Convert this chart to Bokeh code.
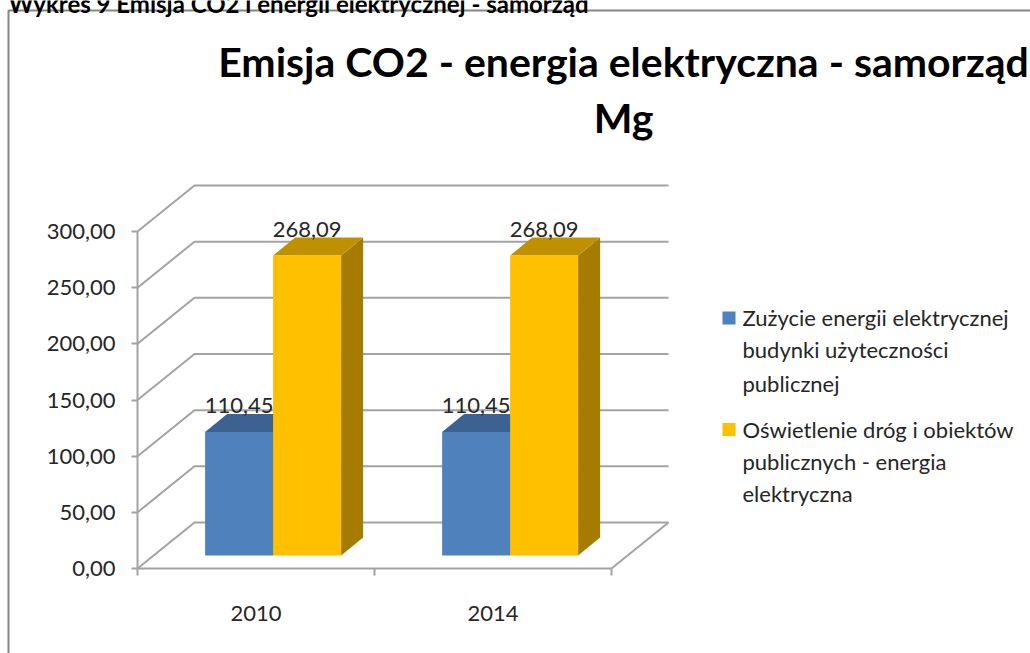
from bokeh.plotting import figure
from bokeh.models import Range1d, FixedTicker
from bokeh.core.properties import value
from bokeh.embed import file_html
from bokeh.resources import INLINE

# ---- data
categories = ["2010", "2014"]
series_a = [110.45, 110.45]
series_b = [268.09, 268.09]
labels_a = ["110,45", "110,45"]
labels_b = ["268,09", "268,09"]
y_ticks = [0, 50, 100, 150, 200, 250, 300]
y_tick_labels = ["0,00", "50,00", "100,00", "150,00", "200,00", "250,00", "300,00"]
legend_a = ["Zużycie energii elektrycznej", "budynki użyteczności", "publicznej"]
legend_b = ["Oświetlenie dróg i obiektów", "publicznych - energia", "elektryczna"]
title_lines = ["Emisja CO2 - energia elektryczna  - samorząd", "Mg"]
caption = "Wykres 9 Emisja CO2 i energii elektrycznej - samorząd"

# ---- layout constants
W, H = 1030, 653
X0, XU = 137, 237.0      # canvas px of x=0, px per category
Y0, YU = 568, 337 / 300  # canvas px of y=0, px per unit
FONT = "Lato"
GRID = "#a3a3a3"


def dx(px):
    return px / XU


def dy(px):
    return px / YU


def cx(px):
    return (px - X0) / XU


def cy(px):
    return (Y0 - px) / YU


p = figure(width=W, height=H, output_backend="svg", toolbar_location=None,
           x_range=Range1d(cx(0), cx(W)), y_range=Range1d(cy(H), cy(0)),
           min_border=0, outline_line_color=None,
           background_fill_color="white", border_fill_color="white")
p.grid.visible = False

# ---- axes, placed inside the frame
ya = p.yaxis[0]
ya.fixed_location = 0
ya.ticker = FixedTicker(ticks=y_ticks)
ya.major_label_overrides = dict(zip(y_ticks, y_tick_labels))
ya.major_label_text_font = FONT
ya.major_label_text_font_size = "22px"
ya.major_label_text_color = "#262626"
ya.major_label_standoff = 16
ya.major_tick_out = 6
ya.major_tick_in = 0
ya.minor_tick_line_color = None
ya.axis_line_color = GRID
ya.axis_line_width = 2
ya.major_tick_line_color = GRID
ya.major_tick_line_width = 2
ya.bounds = (0, 300)

xa = p.xaxis[0]
xa.fixed_location = 0
xa.ticker = FixedTicker(ticks=[0.5, 1.5])
xa.major_label_overrides = {0.5: categories[0], 1.5: categories[1]}
xa.major_label_text_font = FONT
xa.major_label_text_font_size = "22px"
xa.major_label_text_color = "#262626"
xa.major_label_standoff = 31
xa.major_tick_line_color = None
xa.minor_tick_line_color = None
xa.axis_line_color = GRID
xa.axis_line_width = 2
xa.bounds = (0, 2)

# ---- chart frame (page border)
p.line([cx(8), cx(8), cx(W)], [cy(H), cy(10), cy(10)], line_color="#868686", line_width=2)

# ---- 3-D walls
BX, BY = dx(57), dy(46)
for v in y_ticks:
    p.line([0, BX, 2 + BX], [v, v + BY, v + BY], line_color=GRID, line_width=2)
p.line([2, 2 + BX], [0, BY], line_color=GRID, line_width=2)
p.segment(x0=[0, 1, 2], y0=[0, 0, 0], x1=[0, 1, 2], y1=[dy(-7)] * 3, line_color=GRID, line_width=2)

# ---- 3-D bars
OFF_Y = dy(13)
BAR = 68 / XU
START = 67.6 / XU
DX, DY = dx(22), dy(18)


def bar(i, vals, slot, front, top, side):
    x0 = i + START + slot * BAR
    x1 = x0 + BAR
    base = OFF_Y
    t = vals[i] * 1.119 / YU + OFF_Y
    p.patch([x1, x1 + DX, x1 + DX, x1], [base, base + DY, t + DY, t], fill_color=side, line_color=None)
    p.patch([x0, x0 + DX, x1 + DX, x1], [t, t + DY, t + DY, t], fill_color=top, line_color=None)
    p.quad(left=x0, right=x1, bottom=base, top=t, fill_color=front, line_color=None)


for i in range(len(categories)):
    bar(i, series_a, 0, "#4f81bd", "#3c6291", "#35577f")
for i in range(len(categories)):
    bar(i, series_b, 1, "#ffc000", "#bf9000", "#a67c00")

# ---- data labels
for i in range(len(categories)):
    xa_c = i + START + 0.5 * BAR
    xb_c = i + START + 1.5 * BAR
    p.text([xa_c], [series_a[i] * 1.119 / YU + OFF_Y + dy(26)], text=[labels_a[i]], text_font=value(FONT),
           text_font_size="22px", text_align="center", text_baseline="middle", text_color="#262626")
    p.text([xb_c], [series_b[i] * 1.119 / YU + OFF_Y + dy(26)], text=[labels_b[i]], text_font=value(FONT),
           text_font_size="22px", text_align="center", text_baseline="middle", text_color="#262626")

# ---- title and clipped caption
p.text([cx(628)], [cy(61)], text=[title_lines[0]], text_font=value(FONT), text_font_size="41px",
       text_font_style="bold", text_align="center", text_baseline="middle", text_color="#000000")
p.text([cx(623)], [cy(117)], text=[title_lines[1]], text_font=value(FONT), text_font_size="41px",
       text_font_style="bold", text_align="center", text_baseline="middle", text_color="#000000")
p.text([cx(8)], [cy(3)], text=[caption], text_font=value(FONT), text_font_size="24px",
       text_font_style="bold", text_align="left", text_baseline="alphabetic", text_color="#000000")

# ---- legend
for colour, lines, square_y, ys in [("#4f81bd", legend_a, 317.5, [317, 349, 383]),
                                    ("#ffc000", legend_b, 429, [429, 461, 493])]:
    p.quad(left=cx(722), right=cx(735), bottom=cy(square_y + 6.5), top=cy(square_y - 6.5),
           fill_color=colour, line_color=None)
    p.text([cx(742)] * 3, [cy(v) for v in ys], text=lines, text_font=value(FONT), text_font_size="22px",
           text_align="left", text_baseline="middle", text_color="#262626")

open("out.html", "w").write(file_html(p, INLINE))
